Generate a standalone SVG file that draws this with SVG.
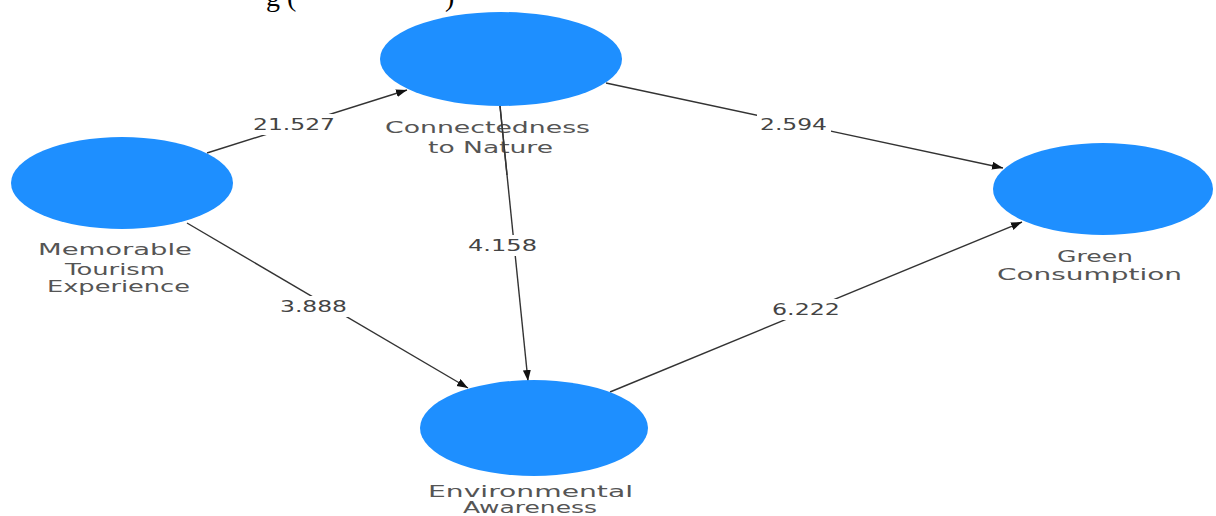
<svg xmlns="http://www.w3.org/2000/svg" width="1216" height="516" viewBox="0 0 1216 516">
<style>
.node{fill:#1E8FFF;}
.lbl{font-family:"DejaVu Sans","Open Sans",sans-serif;font-size:15px;fill:#555555;}
.num{font-family:"DejaVu Sans","Open Sans",sans-serif;font-size:15px;fill:#444444;}
.edge{stroke:#333333;stroke-width:1.4;fill:none;marker-end:url(#arr);}
.bg{fill:#ffffff;}
.top{font-family:"Liberation Serif",serif;font-size:28px;fill:#000000;}
</style>
<defs>
<marker id="arr" markerUnits="userSpaceOnUse" markerWidth="12" markerHeight="10" refX="11" refY="4" orient="auto">
<path d="M0,0 L11,4 L0,8 Z" fill="#111111"/>
</marker>
</defs>
<rect width="1216" height="516" fill="#ffffff"/>
<text class="top" x="266" y="6">g (</text>
<text class="top" x="445" y="6">)</text>
<g id="connectors">
<line class="edge" x1="207" y1="153" x2="407" y2="90"/>
<line class="edge" x1="187" y1="223" x2="468" y2="388"/>
<line class="edge" x1="500" y1="106" x2="528" y2="381"/>
<line class="edge" x1="606" y1="83" x2="1003" y2="168"/>
<line class="edge" x1="610" y1="392" x2="1022" y2="222"/>
<rect class="bg" x="250" y="114" width="90" height="21"/>
<rect class="bg" x="757" y="114" width="74" height="21"/>
<rect class="bg" x="465" y="235" width="76" height="21"/>
<rect class="bg" x="277" y="296" width="74" height="21"/>
<rect class="bg" x="769" y="299" width="75" height="21"/>
<text class="num" x="253" y="130" textLength="82" lengthAdjust="spacingAndGlyphs">21.527</text>
<text class="num" x="760" y="130" textLength="67" lengthAdjust="spacingAndGlyphs">2.594</text>
<text class="num" x="468" y="251" textLength="69" lengthAdjust="spacingAndGlyphs">4.158</text>
<text class="num" x="280" y="312" textLength="67" lengthAdjust="spacingAndGlyphs">3.888</text>
<text class="num" x="772" y="315" textLength="68" lengthAdjust="spacingAndGlyphs">6.222</text>
</g>
<g id="mte">
<ellipse class="node" cx="122" cy="183" rx="111" ry="46"/>
<text class="lbl" x="38" y="255" textLength="154" lengthAdjust="spacingAndGlyphs">Memorable</text>
<text class="lbl" x="65" y="275" textLength="100" lengthAdjust="spacingAndGlyphs">Tourism</text>
<text class="lbl" x="47" y="292" textLength="143" lengthAdjust="spacingAndGlyphs">Experience</text>
</g>
<g id="cn">
<ellipse class="node" cx="501" cy="59" rx="121" ry="47"/>
<text class="lbl" x="385" y="133" textLength="205" lengthAdjust="spacingAndGlyphs">Connectedness</text>
<text class="lbl" x="428" y="153" textLength="125" lengthAdjust="spacingAndGlyphs">to Nature</text>
</g>
<line x1="500" y1="106" x2="507" y2="175" stroke="#333333" stroke-width="1.4"/>
<g id="gc">
<ellipse class="node" cx="1103" cy="189" rx="110" ry="46"/>
<text class="lbl" x="1057" y="262" textLength="76" lengthAdjust="spacingAndGlyphs">Green</text>
<text class="lbl" x="997" y="280" textLength="185" lengthAdjust="spacingAndGlyphs">Consumption</text>
</g>
<g id="ea">
<ellipse class="node" cx="534" cy="428" rx="114" ry="48"/>
<text class="lbl" x="428" y="497" textLength="205" lengthAdjust="spacingAndGlyphs">Environmental</text>
<text class="lbl" x="463" y="513" textLength="134" lengthAdjust="spacingAndGlyphs">Awareness</text>
</g>
</svg>
